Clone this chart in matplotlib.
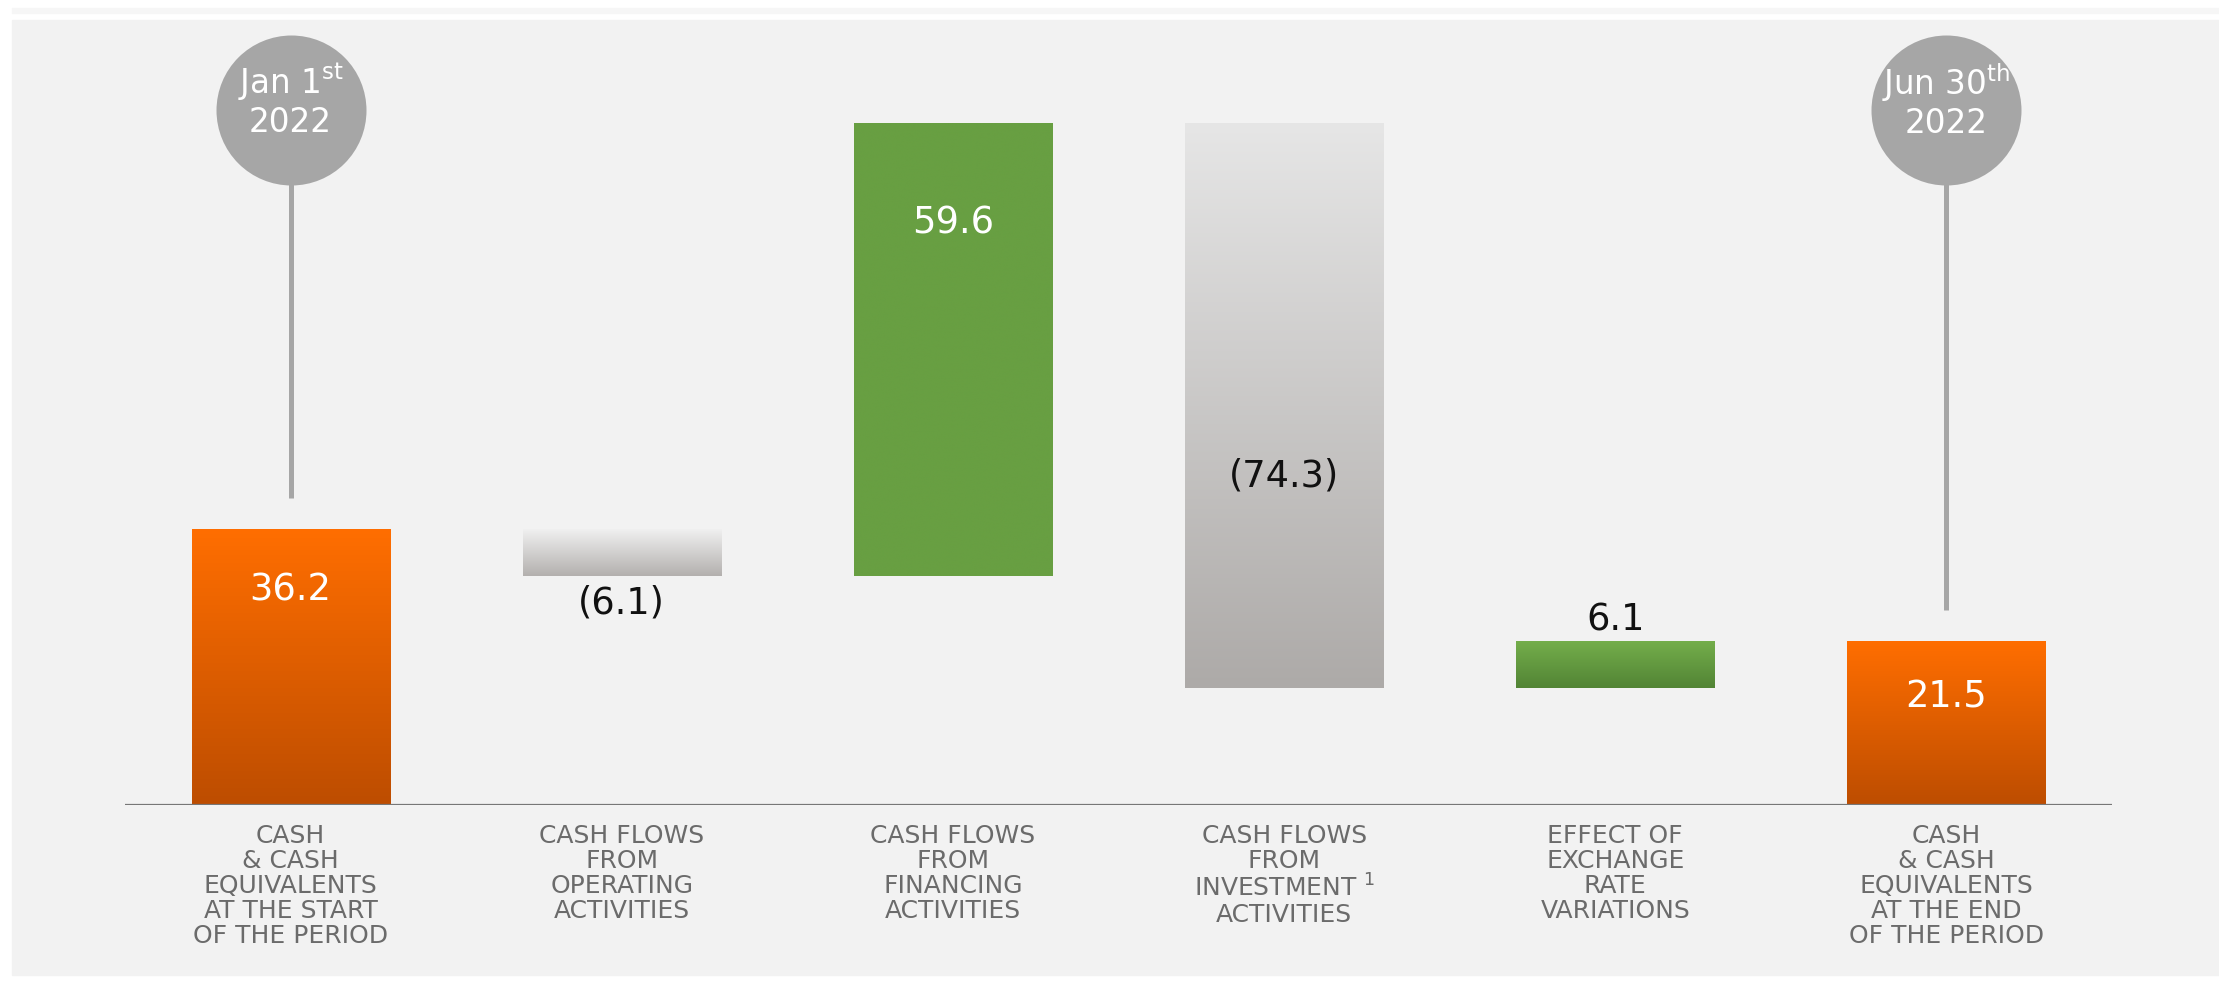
import numpy as np
import matplotlib
matplotlib.use("Agg")
import matplotlib.pyplot as plt
from matplotlib.colors import LinearSegmentedColormap
from matplotlib.patches import Rectangle

plt.rcParams["font.family"] = ["DejaVu Sans"]
plt.rcParams["mathtext.default"] = "regular"

# --- data ---
categories = [
    "CASH\n& CASH\nEQUIVALENTS\nAT THE START\nOF THE PERIOD",
    "CASH FLOWS\nFROM\nOPERATING\nACTIVITIES",
    "CASH FLOWS\nFROM\nFINANCING\nACTIVITIES",
    "CASH FLOWS\nFROM\nINVESTMENT $^1$\nACTIVITIES",
    "EFFECT OF\nEXCHANGE\nRATE\nVARIATIONS",
    "CASH\n& CASH\nEQUIVALENTS\nAT THE END\nOF THE PERIOD",
]
flows = [36.2, -6.1, 59.6, -74.3, 6.1]
closing = 21.5
value_labels = ["36.2", "(6.1)", "59.6", "(74.3)", "6.1", "21.5"]
dates = ["Jan 1$^{st}$\n2022", "Jun 30$^{th}$\n2022"]

# waterfall bottoms / tops
bottoms, tops = [], []
running = 0.0
for i, f in enumerate(flows):
    if i == 0:
        bottoms.append(0.0)
        tops.append(f)
        running = f
    else:
        new = running + f
        bottoms.append(min(running, new))
        tops.append(max(running, new))
        running = new
bottoms.append(0.0)
tops.append(closing)

# --- style ---
orange = ("#ff6e00", "#bd4d00")
gray_op = ("#f0f0f0", "#b3b0ae")
gray_inv = ("#e6e6e6", "#adaaa8")
green_solid = ("#689f42", "#689f42")
green_fx = ("#74ae4b", "#528435")
bar_colors = [orange, gray_op, green_solid, gray_inv, green_fx, orange]
# label placement: ("in", fraction of height from top) / ("below"/"above", px)
label_pos = [("in", 0.22), ("below", 27), ("in", 0.22), ("in", 0.625), ("above", 22), ("in", 0.34)]
label_colors = ["white", "#111111", "white", "#111111", "#111111", "white"]

W, H = 2219, 983
fig = plt.figure(figsize=(W / 100, H / 100), dpi=100)
fig.patch.set_facecolor("white")
fig.add_artist(Rectangle((12 / W, 8 / H), 1 - 12 / W, 1 - 28 / H,
                         transform=fig.transFigure, color="#f2f2f2", zorder=0))
fig.add_artist(Rectangle((12 / W, 1 - 13 / H), 1 - 12 / W, 5 / H,
                         transform=fig.transFigure, color="#f6f6f6", zorder=0))

ax = fig.add_axes([125 / W, 178 / H, 1987 / W, 785 / H])
ax.set_facecolor("none")
px_per_unit = 7.6
ylim_top = 785 / px_per_unit

width = 0.598
x = np.arange(len(categories))
for i in x:
    c_top, c_bot = bar_colors[i]
    cmap = LinearSegmentedColormap.from_list(f"g{i}", [c_bot, c_top])
    grad = np.linspace(0, 1, 256).reshape(-1, 1)
    ax.imshow(grad, cmap=cmap, origin="lower", aspect="auto",
              extent=[i - width / 2, i + width / 2, bottoms[i], tops[i]],
              zorder=2, interpolation="bicubic")

    kind, amt = label_pos[i]
    if kind == "in":
        ly = tops[i] - amt * (tops[i] - bottoms[i])
        ax.text(i, ly, value_labels[i], ha="center", va="center",
                fontsize=26.5, color=label_colors[i], zorder=4)
    elif kind == "below":
        ax.annotate(value_labels[i], (i, bottoms[i]), xytext=(0, -amt * 0.72),
                    textcoords="offset points", ha="center", va="center",
                    fontsize=26.5, color=label_colors[i], zorder=4)
    else:
        ax.annotate(value_labels[i], (i, tops[i]), xytext=(0, amt * 0.72),
                    textcoords="offset points", ha="center", va="center",
                    fontsize=26.5, color=label_colors[i], zorder=4)

    ax.annotate(categories[i], (i, 0), xytext=(0, -14), textcoords="offset points",
                ha="center", va="top", fontsize=18, color="#6b6b6b",
                linespacing=1.05, annotation_clip=False)

# date bubbles on first and last bars
circle_y = (805 - 110) / px_per_unit
for j, i in enumerate([0, len(categories) - 1]):
    ax.plot([i, i], [tops[i] + 4.2, circle_y], color="#a6a6a6", lw=3.6,
            zorder=1, solid_capstyle="butt")
    ax.scatter([i], [circle_y], s=108 ** 2, color="#a6a6a6", zorder=3,
               clip_on=False, linewidths=0)
    ax.text(i, circle_y + 1.2, dates[j], ha="center", va="center", fontsize=23.5,
            color="white", zorder=4, linespacing=1.12)

ax.axhline(0, color="#777777", lw=1.6, zorder=3)
ax.set_xlim(-0.5, len(categories) - 0.5)
ax.set_ylim(0, ylim_top)
ax.axis("off")

fig.savefig("out.png", dpi=100, facecolor=fig.get_facecolor())
